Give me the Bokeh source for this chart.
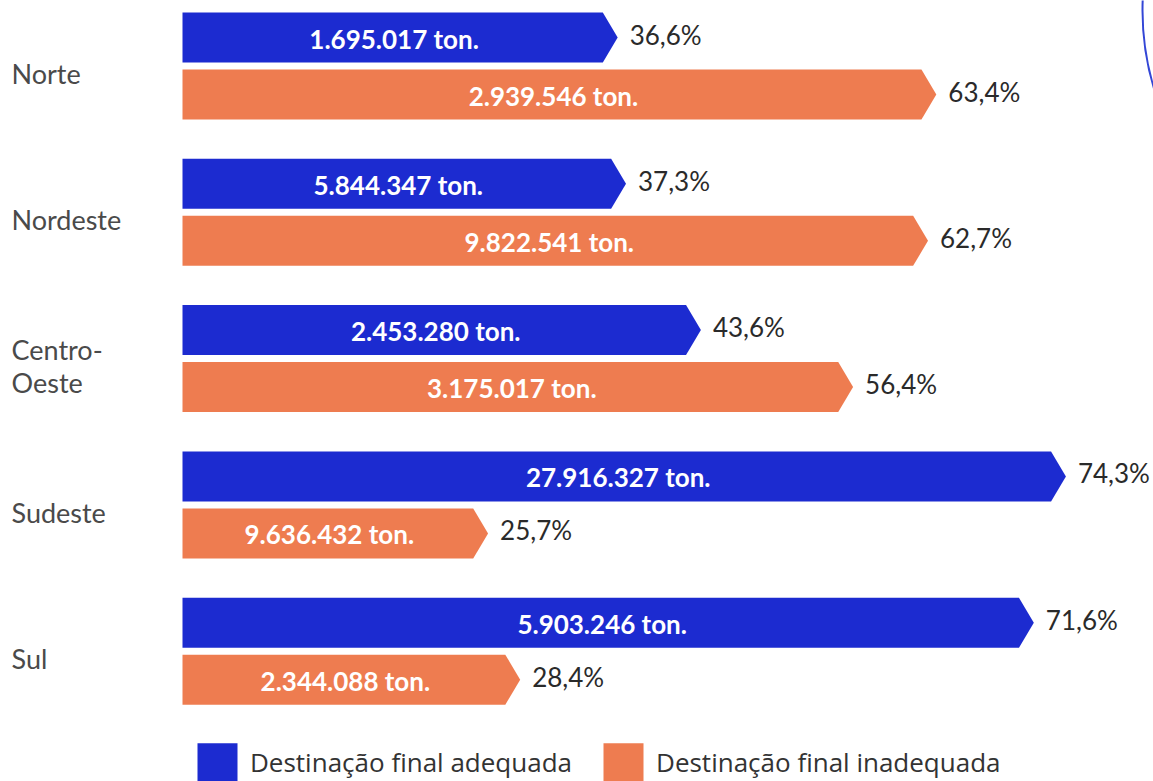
from bokeh.plotting import figure
from bokeh.models import Range1d, ColumnDataSource, Legend, LegendItem
from bokeh.core.properties import value
from bokeh.embed import file_html
from bokeh.resources import INLINE

regions = ["Norte", "Nordeste", "Centro-\nOeste", "Sudeste", "Sul"]
adequada_pct = [36.6, 37.3, 43.6, 74.3, 71.6]
inadequada_pct = [63.4, 62.7, 56.4, 25.7, 28.4]
adequada_ton = ["1.695.017 ton.", "5.844.347 ton.", "2.453.280 ton.", "27.916.327 ton.", "5.903.246 ton."]
inadequada_ton = ["2.939.546 ton.", "9.822.541 ton.", "3.175.017 ton.", "9.636.432 ton.", "2.344.088 ton."]
pct_labels_a = ["36,6%", "37,3%", "43,6%", "74,3%", "71,6%"]
pct_labels_i = ["63,4%", "62,7%", "56,4%", "25,7%", "28,4%"]

BLUE = "#1c2bd0"
ORANGE = "#ee7c50"
W, H = 1153, 781
PX_PER_PCT = 11.89
ORIGIN = 182
TIP = 1.25          # arrow depth in % units
BAR_H = 50
GROUP0, GROUP_STEP = 65, 146.3

p = figure(width=W, height=H, output_backend="svg", toolbar_location=None,
           x_range=Range1d(-ORIGIN / PX_PER_PCT, (W - ORIGIN) / PX_PER_PCT),
           y_range=Range1d(H, 0), min_border=0)
p.axis.visible = False
p.grid.visible = False
p.outline_line_color = None
p.background_fill_color = "white"
p.border_fill_color = "white"

# decorative partial ring at top-right corner (part of a logo in the original page)
p.circle(x=[(1412 - ORIGIN) / PX_PER_PCT], y=[10], radius=270 / PX_PER_PCT,
         fill_color=None, line_color="#3346d6", line_width=2)

centers = [GROUP0 + i * GROUP_STEP for i in range(len(regions))]
yb = [c - 28 for c in centers]
yo = [c + 29 for c in centers]

def arrow_polys(vals, ys):
    xs, yss = [], []
    for v, y in zip(vals, ys):
        xs.append([0, v - TIP, v, v - TIP, 0])
        yss.append([y - BAR_H / 2, y - BAR_H / 2, y, y + BAR_H / 2, y + BAR_H / 2])
    return xs, yss

bx, by = arrow_polys(adequada_pct, yb)
ox, oy = arrow_polys(inadequada_pct, yo)
rb = p.patches(bx, by, fill_color=BLUE, line_color=None)
ro = p.patches(ox, oy, fill_color=ORANGE, line_color=None)

src_b = ColumnDataSource(dict(x=[v / 2 for v in adequada_pct], xe=adequada_pct, y=yb,
                              t=adequada_ton, pl=pct_labels_a))
src_o = ColumnDataSource(dict(x=[v / 2 for v in inadequada_pct], xe=inadequada_pct, y=yo,
                              t=inadequada_ton, pl=pct_labels_i))
for s in (src_b, src_o):
    p.text(x="x", y="y", text="t", source=s, text_color="white", text_font=value("Lato"),
           text_font_style="bold", text_font_size="26px", text_align="center",
           text_baseline="middle", y_offset=1, x_offset=-6)
    p.text(x="xe", y="y", text="pl", source=s, text_color="#2a2a2a", text_font=value("Lato"),
           text_font_size="26px", text_align="left", text_baseline="middle", x_offset=12,
           y_offset=-3)

p.text(x=[-ORIGIN / PX_PER_PCT] * len(regions), y=[c + 8 for c in centers], text=regions,
       text_color="#4a4a4a", text_font=value("Lato"), text_font_size="27px",
       text_align="left", text_baseline="middle", x_offset=11, text_line_height=0.98)

legend = Legend(items=[LegendItem(label="Destinação final adequada", renderers=[rb]),
                       LegendItem(label="Destinação final inadequada", renderers=[ro])],
                orientation="horizontal", location=(192, -5), glyph_width=50, glyph_height=48,
                label_text_font="Open Sans", label_text_font_size="26px",
                label_text_color="#333333", label_standoff=8, spacing=26, padding=0,
                margin=0, border_line_color=None, background_fill_alpha=0)
p.add_layout(legend, "center")

open("out.html", "w").write(file_html(p, INLINE))
